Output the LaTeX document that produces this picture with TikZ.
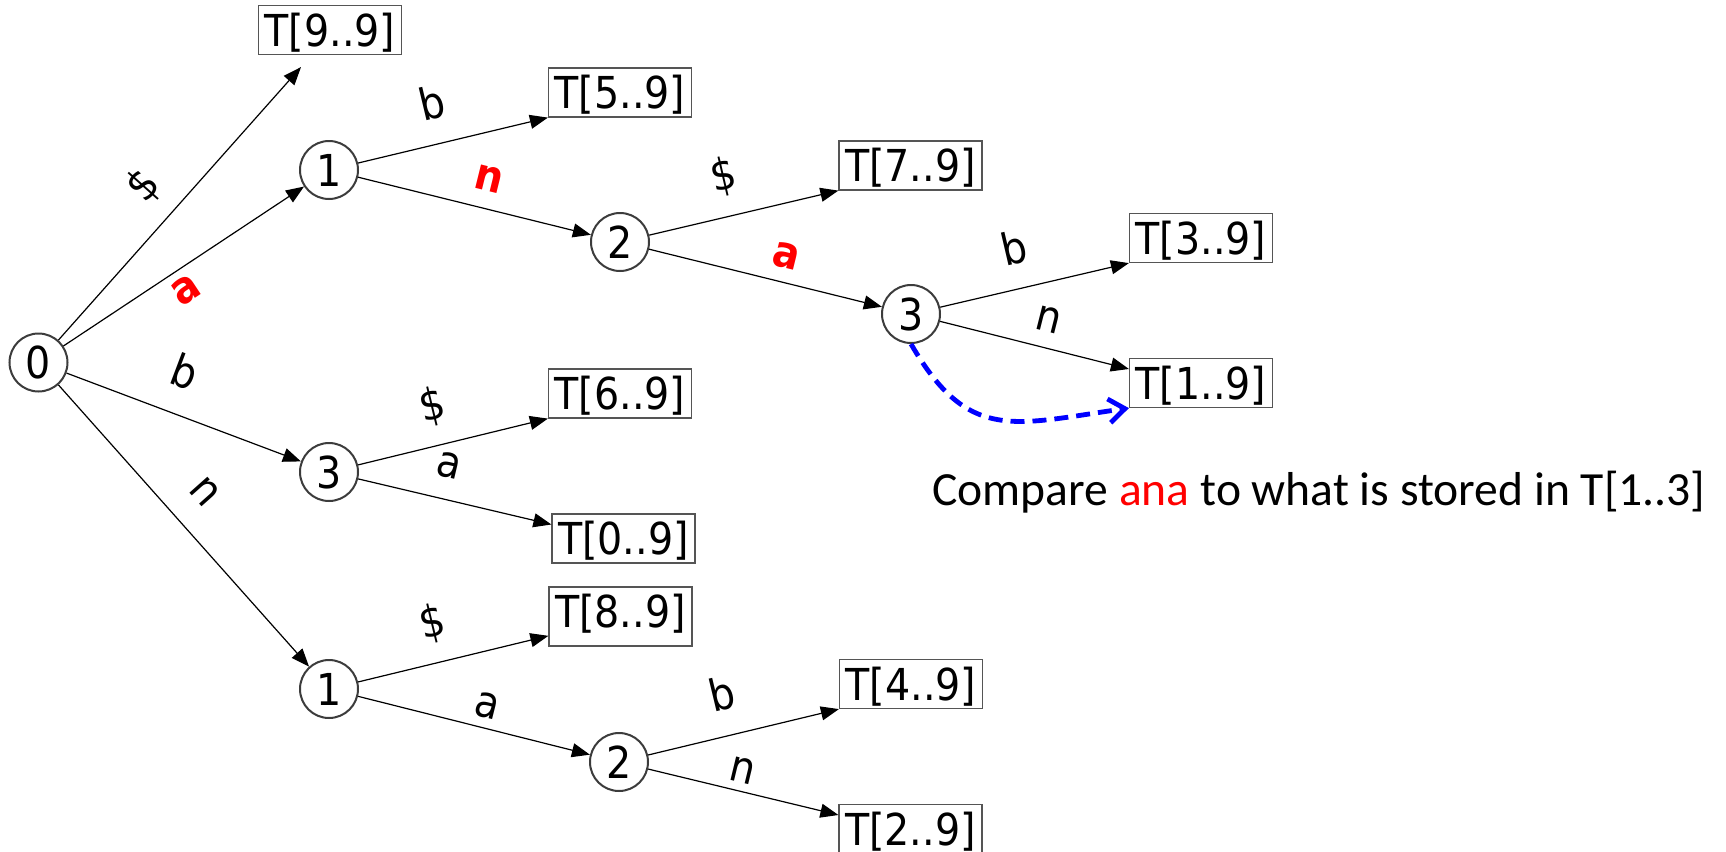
\documentclass[tikz,border=0pt]{standalone}
\usepackage{fontspec}
\setsansfont{DejaVu Sans Condensed}[BoldFont={DejaVu Sans Condensed Bold}]
\newfontfamily\notefont{Carlito}
\usetikzlibrary{arrows.meta, positioning}
\definecolor{linecol}{RGB}{0, 0, 0}
\definecolor{rimcol}{RGB}{60, 60, 60}
\definecolor{boxcol}{RGB}{85, 85, 85}
\definecolor{hotcol}{RGB}{255, 0, 0}
\definecolor{probecol}{RGB}{0, 0, 255}
\newcommand\treefont{\sffamily\fontsize{22pt}{26pt}\selectfont}
\tikzset{
  vtx/.style   = {circle, draw=rimcol, line width=1pt, fill=white,
                  minimum size=29pt, inner sep=0pt},
  leaf/.style  = {rectangle, draw=boxcol, line width=0.6pt, fill=white,
                  minimum width=71.5pt, inner xsep=0pt, inner ysep=0pt,
                  text height=20.3pt, text depth=4.2pt},
  tallleaf/.style = {leaf, text height=20pt, text depth=9.5pt},
  trans/.style = {-{Triangle[length=9pt, width=7pt]}, draw=linecol,
                  line width=0.6pt},
  % edge letters sit on the edge, baseline lifted by the inner ysep
  lbl/.style   = {sloped, anchor=south, text depth=0pt, inner xsep=0pt,
                  inner ysep=12.5pt},
  hot/.style   = {lbl, text=hotcol, font=\treefont\bfseries},
  probe/.style = {-{Straight Barb[length=8pt, width=12pt]}, draw=probecol,
                  line width=2.4pt, dash pattern=on 7pt off 4pt},
  note/.style  = {font=\notefont\fontsize{23.8pt}{28pt}\selectfont,
                  inner sep=0pt},
}

\begin{document}
\begin{tikzpicture}[font=\treefont, on grid]
  \useasboundingbox (0,0) rectangle (863pt,-426pt);

  \node[vtx] (n0) at (19.25pt,-181.25pt) {0};

  %% ================ first level ================
  \node[leaf, above right=166.25pt and 145.75pt of n0] (t99) {T[9..9]};
  \node[vtx, above right=96.25pt and 145.25pt of n0] (n1a) {1};
  \node[vtx, below right=54.75pt and 145.25pt of n0] (n3b) {3};
  \node[vtx, below right=163.25pt and 145.25pt of n0] (n1b) {1};

  \draw[trans] (n0) -- node[lbl, pos=0.47, inner ysep=12pt] {\$}
       ([xshift=-14.5pt, yshift=-6pt]t99.south);
  \draw[trans] (n0) -- node[hot, pos=0.46, anchor=north, text height=12pt,
       inner ysep=4pt] {a} (n1a);
  \draw[trans] (n0) -- node[lbl, pos=0.44, inner ysep=13pt] {b} (n3b);
  \draw[trans] (n0) -- node[lbl, pos=0.47] {n} (n1b);

  %% ================ the a-branch ================
  \node[leaf, above right=38.75pt and 145.5pt of n1a] (t59) {T[5..9]};
  \node[vtx, below right=36pt and 145.5pt of n1a] (n2a) {2};
  \draw[trans] (n1a) -- node[lbl, pos=0.44] {b} (t59.south west);
  \draw[trans] (n1a) -- node[hot, pos=0.53, inner ysep=8.5pt] {n} (n2a);

  \node[leaf, above right=38.25pt and 145.25pt of n2a] (t79) {T[7..9]};
  \node[vtx, below right=36pt and 145.5pt of n2a] (n3a) {3};
  \draw[trans] (n2a) -- node[lbl, pos=0.44, inner ysep=13pt] {\$} (t79.south west);
  \draw[trans] (n2a) -- node[hot, pos=0.56, inner ysep=7pt] {a} (n3a);

  \node[leaf, above right=38pt and 145pt of n3a] (t39) {T[3..9]};
  \node[leaf, below right=34.5pt and 145pt of n3a] (t19) {T[1..9]};
  \draw[trans] (n3a) -- node[lbl, pos=0.44, inner ysep=12pt] {b} (t39.south west);
  \draw[trans] (n3a) -- node[lbl, pos=0.54, inner ysep=7.5pt] {n} (t19.169);

  %% ================ the b-branch ================
  \node[leaf, above right=39.25pt and 145.5pt of n3b] (t69) {T[6..9]};
  \node[leaf, below right=33.25pt and 147.25pt of n3b] (t09) {T[0..9]};
  \draw[trans] (n3b) -- node[lbl, pos=0.44] {\$} (t69.south west);
  \draw[trans] (n3b) -- node[lbl, pos=0.43, inner ysep=10.5pt] {a} (t09.169);

  %% ================ the n-branch ================
  \node[tallleaf, above right=36.25pt and 145.75pt of n1b] (t89) {T[8..9]};
  \node[vtx, below right=36.5pt and 145pt of n1b] (n2b) {2};
  \draw[trans] (n1b) -- node[lbl, pos=0.44] {\$} (t89.195);
  \draw[trans] (n1b) -- node[lbl, pos=0.535, inner ysep=5pt] {a} (n2b);

  \node[leaf, above right=39pt and 146pt of n2b] (t49) {T[4..9]};
  \node[leaf, below right=33.5pt and 145.75pt of n2b] (t29) {T[2..9]};
  \draw[trans] (n2b) -- node[lbl, pos=0.44] {b} (t49.south west);
  \draw[trans] (n2b) -- node[lbl, pos=0.47, inner ysep=4pt] {n} (t29.169);

  %% ---------------- the jump to the stored suffix ----------------
  \draw[probe] (n3a.south) to[out=-60, in=188, looseness=1.3] (t19.south west);
  \node[note, anchor=base west] (cmp) at (466pt,-252.5pt)
       {Compare \textcolor{hotcol}{ana} to what is stored in T[1..3]};

\end{tikzpicture}
\end{document}
